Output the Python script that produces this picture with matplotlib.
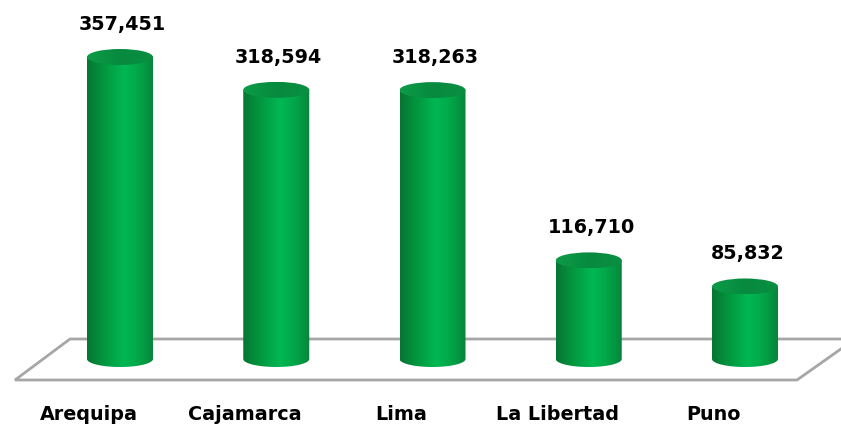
import numpy as np
import matplotlib
matplotlib.use("Agg")
import matplotlib.pyplot as plt
from matplotlib.patches import Polygon, Ellipse
from matplotlib.colors import LinearSegmentedColormap

categories = ["Arequipa", "Cajamarca", "Lima", "La Libertad", "Puno"]
values = [357451, 318594, 318263, 116710, 85832]

# px -> data: one category step = 156.25 px, 1 px in y = ~1184 units
ppx = 156.25
upy = 357451 / 302.0
half_w = 33 / ppx
ell_h = 8 * upy

body_cmap = LinearSegmentedColormap.from_list(
    "body", [(0.0, "#087533"), (0.25, "#03963e"), (0.55, "#00b853"),
             (0.75, "#02a849"), (1.0, "#06863a")])
top_cmap = LinearSegmentedColormap.from_list(
    "top", [(0.0, "#0c9b47"), (0.5, "#078a3f"), (1.0, "#0a8f42")])

fig = plt.figure(figsize=(8.41, 4.26), dpi=100)
ax = fig.add_axes([0, 0, 1, 1])
ax.set_xlim(-120 / ppx, (841 - 120) / ppx)
ax.set_ylim(-(426 - 359) * upy, 359 * upy)
ax.axis("off")

# floor
back_y = 20 * upy
front_y = -21 * upy
floor = Polygon([(-50 / ppx, back_y), (-105 / ppx, front_y),
                 (677 / ppx, front_y), (735 / ppx, back_y)],
                closed=True, facecolor="white", edgecolor="#a6a6a6", lw=2, zorder=1)
ax.add_patch(floor)

grad = np.linspace(0, 1, 256).reshape(1, -1)
t = np.linspace(np.pi, 2 * np.pi, 60)

for i, (cat, v) in enumerate(zip(categories, values)):
    x0, x1 = i - half_w, i + half_w
    # body: rectangle + lower half of base ellipse
    pts = [(x0, v)]
    pts += [(i + half_w * np.cos(a), ell_h * np.sin(a)) for a in t]
    pts += [(x1, v)]
    clip = Polygon(pts, closed=True, facecolor="none", edgecolor="none")
    ax.add_patch(clip)
    im = ax.imshow(grad, cmap=body_cmap, aspect="auto",
                   extent=[x0, x1, -ell_h, v], zorder=2)
    im.set_clip_path(clip)

    top = Ellipse((i, v), 2 * half_w, 2 * ell_h, facecolor="none", edgecolor="none")
    ax.add_patch(top)
    im2 = ax.imshow(grad, cmap=top_cmap, aspect="auto",
                    extent=[x0, x1, v - ell_h, v + ell_h], zorder=3)
    im2.set_clip_path(top)

    ax.text(i + 0.015, v + 27 * upy, f"{v:,}", ha="center", va="baseline",
            fontsize=13.8, fontweight="bold", color="black", zorder=4)
    ax.text(i - 0.2, -61 * upy, cat, ha="center", va="baseline",
            fontsize=13.8, fontweight="bold", color="black", zorder=4)

fig.savefig("out.png", dpi=100)
